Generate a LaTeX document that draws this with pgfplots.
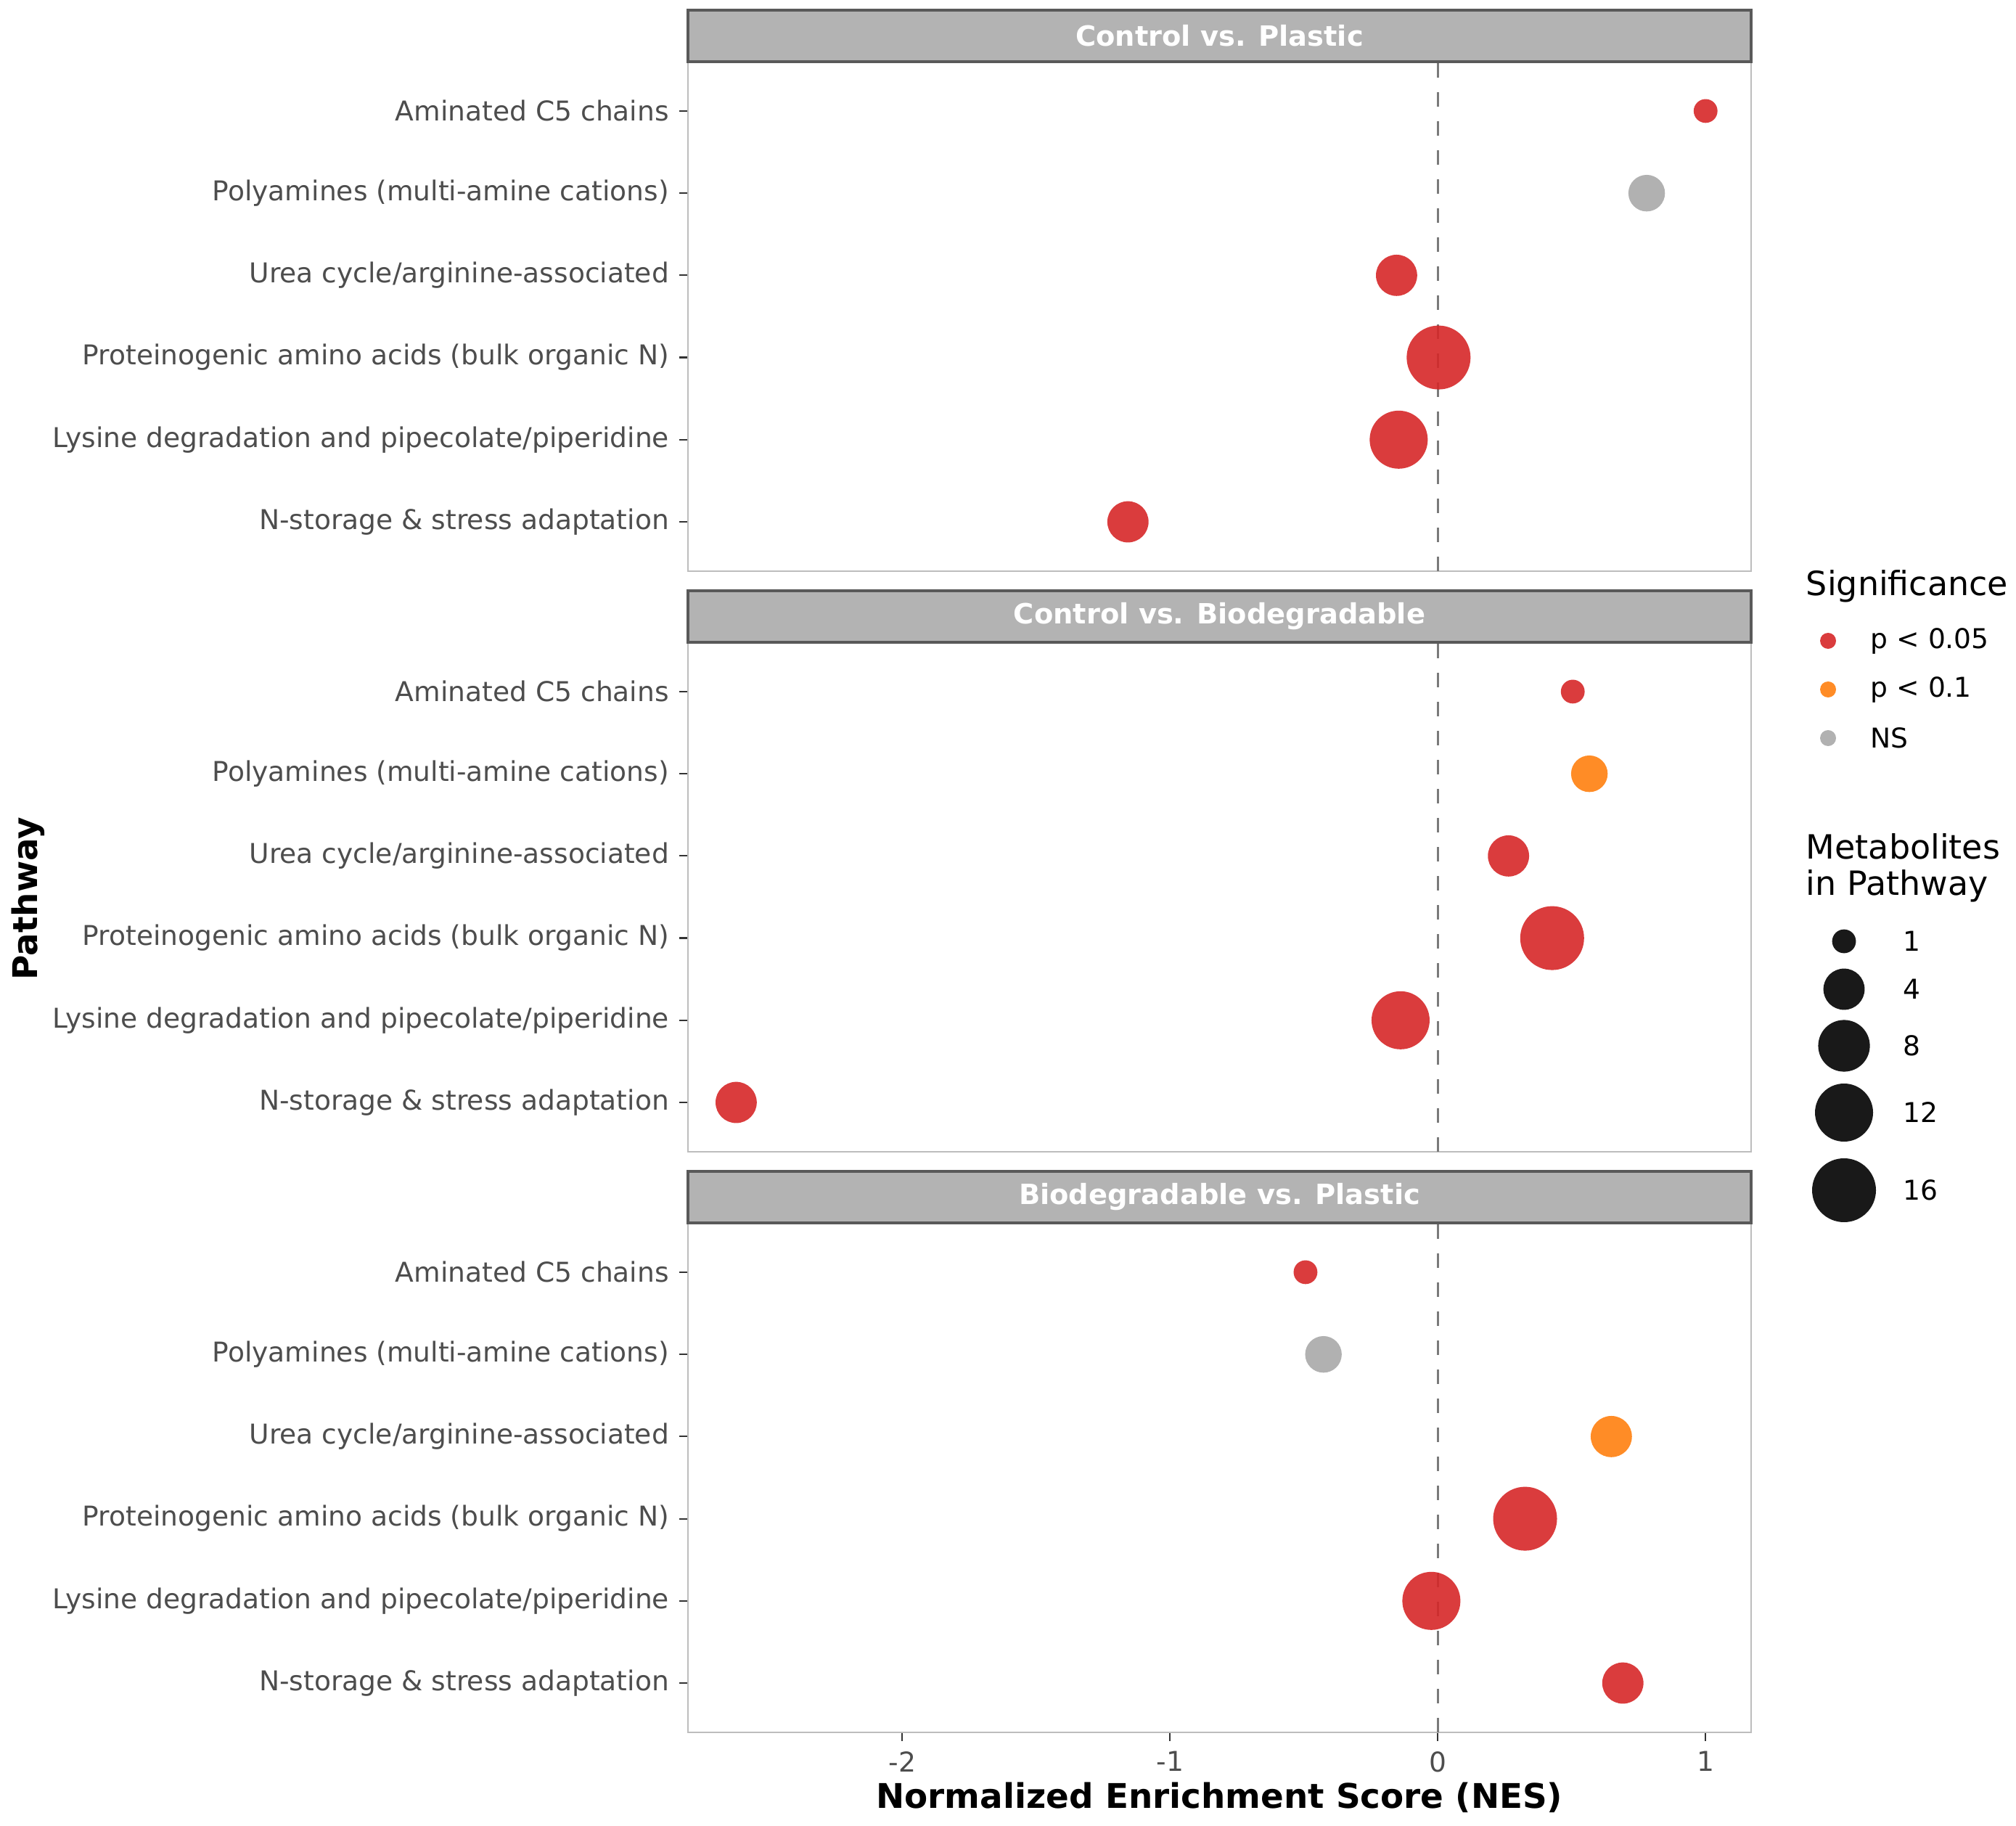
\documentclass[border=0pt]{standalone}
\usepackage{pgfplots}
\pgfplotsset{compat=1.18}
\usepackage{fontspec}
\setmainfont{DejaVu Sans}
\definecolor{cred}{HTML}{D62728}
\definecolor{corange}{HTML}{FF7F0E}
\definecolor{cgray}{HTML}{A8A8A8}
\definecolor{stripfill}{HTML}{B3B3B3}
\definecolor{stripline}{HTML}{595959}
\definecolor{panelline}{HTML}{BDBDBD}
\definecolor{ticktext}{HTML}{4D4D4D}
\definecolor{tickline}{HTML}{333333}
\definecolor{vline}{HTML}{7A7A7A}
\newcommand{\ticksize}{\fontsize{9.4}{11}\selectfont}
\pgfplotsset{
  panel/.style={
    scale only axis, width=366.25pt, height=175.5pt,
    xmin=-2.80, xmax=1.17, ymin=0.4, ymax=6.6,
    ytick={1,2,3,4,5,6},
    yticklabels={N-storage \& stress adaptation, Lysine degradation and pipecolate/piperidine, Proteinogenic amino acids (bulk organic N), Urea cycle/arginine-associated, Polyamines (multi-amine cations), Aminated C5 chains},
    tick align=outside, major tick length=3pt,
    ytick pos=left, xtick pos=bottom,
    tick style={tickline, line width=0.55pt},
    yticklabel style={font=\ticksize, text=ticktext},
    xticklabel style={font=\ticksize, text=ticktext},
    axis line style={panelline, line width=0.6pt},
    anchor=north west,
  },
  dot/.style={scatter, only marks, mark=*,
    scatter/use mapped color={draw=#1, draw opacity=0, fill=#1, fill opacity=0.9},
    visualization depends on={\thisrow{r} \as \rad},
    scatter/@pre marker code/.append style={/tikz/mark size=\rad}},
  key/.style={only marks, mark=*, mark options={draw=#1, draw opacity=0, fill=#1, fill opacity=0.9}},
  zero/.style={vline, line width=0.75pt, dash pattern=on 5pt off 5pt},
}
\begin{document}
\begin{tikzpicture}
\path[use as bounding box] (0,0) rectangle (694.5pt,-629pt);

% Panel 1: Control vs. Plastic
\begin{axis}[panel, name=p1, at={(237pt,-21.25pt)}, xtick=\empty]
\addplot[zero] coordinates {(0,0.4) (0,6.6)};
\addplot[dot=cred] table[row sep=\\] {x y r\\
1.00 6 4.1\\
-0.154 4 7.1\\
0.003 3 11\\
-0.146 2 10\\
-1.157 1 7.1\\
};
\addplot[dot=cgray] table[row sep=\\] {x y r\\
0.78 5 6.3\\
};
\end{axis}

% Panel 2: Control vs. Biodegradable
\begin{axis}[panel, name=p2, at={(237pt,-221.25pt)}, xtick=\empty]
\addplot[zero] coordinates {(0,0.4) (0,6.6)};
\addplot[dot=cred] table[row sep=\\] {x y r\\
0.504 6 4.1\\
0.264 4 7.1\\
0.427 3 11\\
-0.139 2 10\\
-2.62 1 7.1\\
};
\addplot[dot=corange] table[row sep=\\] {x y r\\
0.566 5 6.3\\
};
\end{axis}

% Panel 3: Biodegradable vs. Plastic
\begin{axis}[panel, name=p3, at={(237pt,-421.25pt)}, xtick={-2,-1,0,1}, xticklabels={-2,-1,0,1}]
\addplot[zero] coordinates {(0,0.4) (0,6.6)};
\addplot[dot=cred] table[row sep=\\] {x y r\\
-0.494 6 4.1\\
0.326 3 11\\
-0.024 2 10\\
0.691 1 7.1\\
};
\addplot[dot=cgray] table[row sep=\\] {x y r\\
-0.427 5 6.3\\
};
\addplot[dot=corange] table[row sep=\\] {x y r\\
0.648 4 7.1\\
};
\end{axis}

% strips
\foreach \p/\t in {p1/Control vs. Plastic, p2/Control vs. Biodegradable, p3/Biodegradable vs. Plastic}{
  \draw[stripline, fill=stripfill, line width=0.8pt] (\p.north west) rectangle ([yshift=17.75pt]\p.north east);
  \node[text=white, font=\bfseries\fontsize{9.6}{11}\selectfont] at ([yshift=8.875pt]\p.north) {\t};
}

% axis titles
\node[rotate=90, font=\bfseries\fontsize{11.7}{14}\selectfont] at (9.75pt,-309.5pt) {Pathway};
\node[font=\bfseries\fontsize{11.7}{14}\selectfont] at (420.1pt,-619.25pt) {Normalized Enrichment Score (NES)};

% legends (keys drawn through a hidden axis in pt units)
\begin{axis}[hide axis, scale only axis, width=694.5pt, height=629pt,
  xmin=0, xmax=694.5, ymin=-629, ymax=0, at={(0pt,0pt)}, anchor=north west, clip=false]
\addplot[key=cred, mark size=2.75pt] coordinates {(629.75,-220.75)};
\addplot[key=corange, mark size=2.75pt] coordinates {(629.75,-237.5)};
\addplot[key=cgray, mark size=2.75pt] coordinates {(629.75,-254.25)};
\addplot[key=black, mark size=4.1pt] coordinates {(635.25,-324.25)};
\addplot[key=black, mark size=7.1pt] coordinates {(635.25,-340.75)};
\addplot[key=black, mark size=8.9pt] coordinates {(635.25,-360.25)};
\addplot[key=black, mark size=10pt] coordinates {(635.25,-383.25)};
\addplot[key=black, mark size=11pt] coordinates {(635.25,-410)};
\end{axis}

\node[anchor=base west, inner sep=0pt, font=\fontsize{11.5}{14}\selectfont] at (622pt,-205pt) {Significance};
\node[anchor=west, inner sep=0pt, font=\ticksize] at (644.25pt,-220.75pt) {p < 0.05};
\node[anchor=west, inner sep=0pt, font=\ticksize] at (644.25pt,-237.5pt) {p < 0.1};
\node[anchor=west, inner sep=0pt, font=\ticksize] at (644.25pt,-254.25pt) {NS};
\node[anchor=base west, inner sep=0pt, font=\fontsize{11.5}{14}\selectfont] at (622pt,-295.75pt) {Metabolites};
\node[anchor=base west, inner sep=0pt, font=\fontsize{11.5}{14}\selectfont] at (622pt,-308.25pt) {in Pathway};
\node[anchor=west, inner sep=0pt, font=\ticksize] at (655.5pt,-324.25pt) {1};
\node[anchor=west, inner sep=0pt, font=\ticksize] at (655.5pt,-340.75pt) {4};
\node[anchor=west, inner sep=0pt, font=\ticksize] at (655.5pt,-360.25pt) {8};
\node[anchor=west, inner sep=0pt, font=\ticksize] at (655.5pt,-383.25pt) {12};
\node[anchor=west, inner sep=0pt, font=\ticksize] at (655.5pt,-410pt) {16};
\end{tikzpicture}
\end{document}
